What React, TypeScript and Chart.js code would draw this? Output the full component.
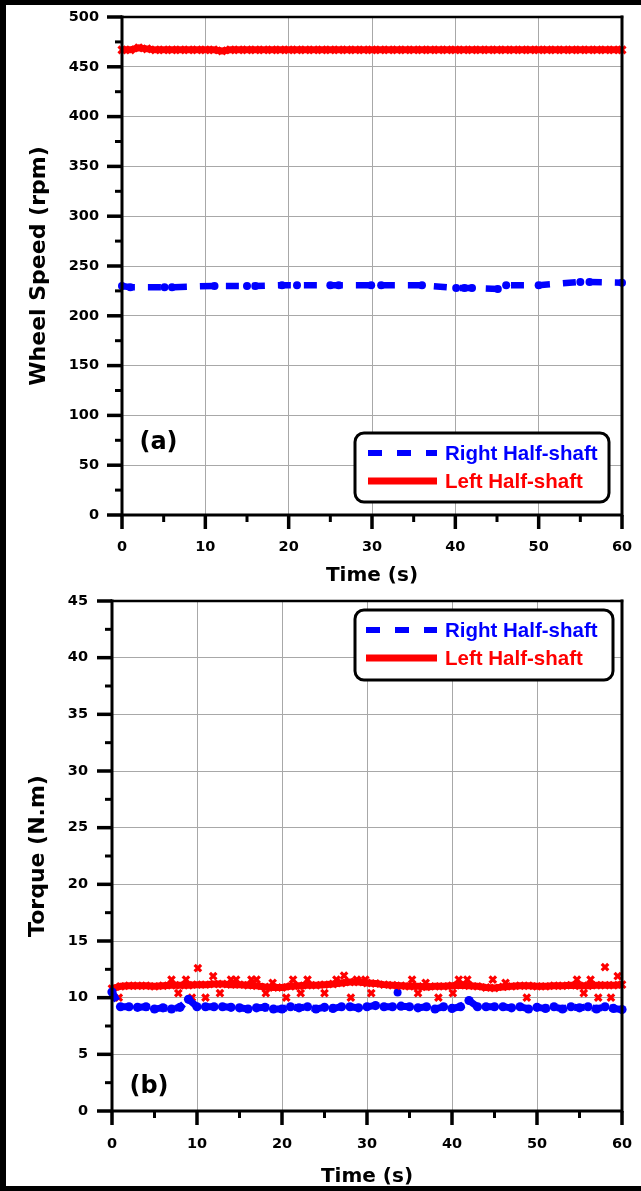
import React, { useEffect, useRef } from 'react';
import { Chart, registerables } from 'chart.js';

Chart.register(...registerables);

const BLUE = '#0000ff';
const RED = '#ff0000';
const GRID = '#a8a8a8';
const FONT = "'DejaVu Sans', sans-serif";
const LEGEND_FONT = "'Liberation Sans', Arial, sans-serif";

// ---------- (a) Wheel speed ----------
const speedTime = [
  0, 1, 2, 3, 4, 5, 6, 7, 8, 9, 10, 11, 12, 13, 14, 15, 16, 17, 18, 19, 20,
  21, 22, 23, 24, 25, 26, 27, 28, 29, 30, 31, 32, 33, 34, 35, 36, 37, 38, 39, 40,
  41, 42, 43, 44, 45, 46, 47, 48, 49, 50, 51, 52, 53, 54, 55, 56, 57, 58, 59, 60,
];
const leftSpeed = [
  467, 467, 469, 468, 467, 467, 467, 467, 467, 467,
  467, 467, 466, 467, 467, 467, 467, 467, 467, 467,
  467, 467, 467, 467, 467, 467, 467, 467, 467, 467,
  467, 467, 467, 467, 467, 467, 467, 467, 467, 467,
  467, 467, 467, 467, 467, 467, 467, 467, 467, 467,
  467, 467, 467, 467, 467, 467, 467, 467, 467, 467,
  467,
];
const rightSpeedTime = [0, 1, 5.1, 6, 11.1, 15, 16, 19.2, 21, 25, 26, 29.9, 31.1, 36, 40.1, 41.1, 42, 45.1, 46.1, 50, 55, 56.1, 60];
const rightSpeed = [230, 228.7, 228.7, 228.7, 230, 230, 230, 230.7, 230.7, 230.7, 230.7, 230.7, 230.7, 230.7, 228, 228, 228, 227, 230.7, 230.7, 234, 234, 233.3];

// ---------- (b) Torque ----------
const torqueTime = speedTime.slice();
const leftTorque = [
  10.8, 11.0, 11.05, 11.05, 11.05, 11.0, 11.05, 11.1, 11.1, 11.1,
  11.15, 11.15, 11.2, 11.2, 11.15, 11.15, 11.1, 11.05, 10.95, 10.9,
  10.9, 11.0, 11.05, 11.1, 11.1, 11.15, 11.2, 11.3, 11.38, 11.38,
  11.3, 11.25, 11.15, 11.1, 11.05, 11.0, 11.0, 10.95, 11.0, 11.0,
  11.05, 11.1, 11.05, 11.0, 10.9, 10.85, 10.95, 11.0, 11.05, 11.05,
  11.0, 11.0, 11.05, 11.05, 11.1, 11.05, 11.05, 11.1, 11.1, 11.1,
  11.15,
];
const rightTorque = [
  10.5, 9.2, 9.2, 9.15, 9.2, 9.0, 9.1, 9.0, 9.15, 9.85,
  9.2, 9.2, 9.2, 9.2, 9.15, 9.1, 9.0, 9.1, 9.15, 9.0,
  9.0, 9.2, 9.1, 9.2, 9.0, 9.15, 9.05, 9.2, 9.2, 9.1,
  9.2, 9.3, 9.2, 9.2, 9.25, 9.2, 9.1, 9.2, 9.0, 9.2,
  9.05, 9.2, 9.75, 9.2, 9.2, 9.2, 9.2, 9.1, 9.2, 9.0,
  9.15, 9.05, 9.2, 9.0, 9.2, 9.1, 9.2, 9.0, 9.2, 9.05,
  8.95,
];
const leftTorqueOutlierTime = [
  0.8, 7.0, 7.8, 8.7, 9.4, 10.1, 11.0, 11.9, 12.7, 14.0, 14.6, 16.4, 17.0, 18.1, 18.9,
  20.5, 21.3, 22.2, 23.0, 25.0, 26.4, 27.3, 28.1, 28.8, 29.8, 30.5, 35.3, 36.0, 36.9,
  38.4, 40.1, 40.8, 41.8, 44.8, 46.3, 48.8, 54.7, 55.5, 56.3, 57.2, 58.0, 58.7, 59.5,
];
const leftTorqueOutlier = [
  10.0, 11.6, 10.4, 11.6, 10.0, 12.6, 10.0, 11.9, 10.4, 11.6, 11.6, 11.6, 11.6, 10.4, 11.3,
  10.0, 11.6, 10.4, 11.6, 10.4, 11.6, 11.95, 10.0, 11.6, 11.6, 10.4, 11.6, 10.4, 11.3,
  10.0, 10.4, 11.6, 11.6, 11.6, 11.3, 10.0, 11.6, 10.4, 11.6, 10.0, 12.7, 10.0, 11.9,
];
const rightTorqueOutlierTime = [33.6];
const rightTorqueOutlier = [10.45];

// ---------- tick labels ----------
const timeMajorTicks = [0, 10, 20, 30, 40, 50, 60];
const speedMajorTicks = [0, 50, 100, 150, 200, 250, 300, 350, 400, 450, 500];
const torqueMajorTicks = [0, 5, 10, 15, 20, 25, 30, 35, 40, 45];

const pts = (xs: number[], ys: number[]) => xs.map((x, i) => ({ x, y: ys[i] }));

const zeroPad = (s: any) => {
  s.paddingTop = 0;
  s.paddingBottom = 0;
  s.paddingLeft = 0;
  s.paddingRight = 0;
};

function xScale(height: number, labelPad: number, titlePadBottom: number) {
  return {
    type: 'linear',
    min: 0,
    max: 60,
    afterFit: (s: any) => { s.height = height; zeroPad(s); },
    ticks: {
      stepSize: 5,
      autoSkip: false,
      maxRotation: 0,
      minRotation: 0,
      padding: labelPad,
      color: '#000',
      font: { family: FONT, size: 14.5, weight: 'bold' },
      callback: (v: any) => (timeMajorTicks.includes(v) ? String(v) : ''),
    },
    grid: {
      drawTicks: false,
      lineWidth: 1,
      color: (c: any) =>
        c.tick && timeMajorTicks.includes(c.tick.value) && c.tick.value !== 0 && c.tick.value !== 60 ? GRID : 'rgba(0,0,0,0)',
    },
    border: { display: false },
    title: {
      display: true,
      text: 'Time (s)',
      color: '#000',
      font: { family: FONT, size: 20, weight: 'bold' },
      padding: { top: 0, bottom: titlePadBottom },
    },
  };
}

function yScale(max: number, step: number, majors: number[], width: number, labelPad: number, title: string, titlePadTop: number) {
  return {
    type: 'linear',
    min: 0,
    max,
    afterFit: (s: any) => { s.width = width; zeroPad(s); },
    ticks: {
      stepSize: step,
      autoSkip: false,
      padding: labelPad,
      color: '#000',
      font: { family: FONT, size: 14.5, weight: 'bold' },
      callback: (v: any) => (majors.includes(v) ? String(v) : ''),
    },
    grid: {
      drawTicks: false,
      lineWidth: 1,
      color: (c: any) =>
        c.tick && majors.includes(c.tick.value) && c.tick.value !== 0 && c.tick.value !== max ? GRID : 'rgba(0,0,0,0)',
    },
    border: { display: false },
    title: {
      display: true,
      text: title,
      color: '#000',
      font: { family: FONT, size: 22, weight: 'bold' },
      padding: { top: titlePadTop, bottom: 0 },
    },
  };
}

function decor(o: any) {
  return {
    id: 'decor',
    afterDraw(chart: any) {
      const { ctx, chartArea, scales } = chart;
      const { left, right, top, bottom } = chartArea;
      ctx.save();
      ctx.strokeStyle = '#000';
      ctx.lineCap = 'butt';
      const xs = scales.x;
      const ys = scales.y;
      xs.ticks.forEach((t: any) => {
        const px = xs.getPixelForValue(t.value);
        const major = timeMajorTicks.includes(t.value);
        ctx.lineWidth = major ? 3.5 : 3;
        ctx.beginPath();
        ctx.moveTo(px, bottom);
        ctx.lineTo(px, bottom + (major ? 14 : 7));
        ctx.stroke();
      });
      ys.ticks.forEach((t: any) => {
        const py = ys.getPixelForValue(t.value);
        const major = o.yMajor.includes(t.value);
        ctx.lineWidth = major ? 3.5 : 3;
        ctx.beginPath();
        ctx.moveTo(left, py);
        ctx.lineTo(left - (major ? 15 : 7), py);
        ctx.stroke();
      });
      // frame
      ctx.lineCap = 'square';
      ctx.lineWidth = 2.5;
      ctx.beginPath();
      ctx.moveTo(left, top);
      ctx.lineTo(right, top);
      ctx.stroke();
      ctx.lineWidth = 3;
      ctx.beginPath();
      ctx.moveTo(left, top);
      ctx.lineTo(left, bottom);
      ctx.lineTo(right, bottom);
      ctx.moveTo(right, top);
      ctx.lineTo(right, bottom);
      ctx.stroke();

      // legend
      const L = o.legend;
      ctx.setLineDash([]);
      ctx.beginPath();
      ctx.roundRect(L.x, L.y, L.w, L.h, 9);
      ctx.fillStyle = '#fff';
      ctx.fill();
      ctx.lineWidth = 3;
      ctx.strokeStyle = '#000';
      ctx.stroke();
      const items = chart.data.datasets.slice(0, 2);
      items.forEach((d: any, i: number) => {
        const y = L.rows[i];
        ctx.strokeStyle = d.borderColor;
        ctx.lineCap = 'butt';
        ctx.lineWidth = i === 0 ? 6 : 7;
        ctx.setLineDash(i === 0 ? [14, 15] : []);
        ctx.beginPath();
        ctx.moveTo(L.sx0, y);
        ctx.lineTo(L.sx1, y);
        ctx.stroke();
        ctx.setLineDash([]);
        ctx.fillStyle = d.borderColor;
        ctx.font = `bold 20.5px ${LEGEND_FONT}`;
        ctx.textAlign = 'left';
        ctx.textBaseline = 'middle';
        ctx.fillText(d.label, L.tx, y + 1);
      });

      // panel label
      ctx.fillStyle = '#000';
      ctx.font = `bold 24px ${FONT}`;
      ctx.textAlign = 'center';
      ctx.textBaseline = 'middle';
      ctx.fillText(o.panel, o.panelX, o.panelY);
      ctx.restore();
    },
  };
}

const blueLine = {
  borderColor: BLUE,
  backgroundColor: BLUE,
  borderWidth: 6.5,
  borderDash: [13, 13],
  pointStyle: 'circle',
  pointRadius: 4,
  pointBorderWidth: 0,
  pointBackgroundColor: BLUE,
  tension: 0,
  clip: false,
};
const redLine = {
  borderColor: RED,
  backgroundColor: RED,
  borderWidth: 7,
  pointStyle: 'crossRot',
  pointRadius: 5,
  pointBorderWidth: 3,
  pointBorderColor: RED,
  tension: 0,
  clip: false,
};

function speedConfig(): any {
  return {
    type: 'line',
    data: {
      datasets: [
        { label: 'Right Half-shaft', data: pts(rightSpeedTime, rightSpeed), ...blueLine },
        { label: 'Left Half-shaft', data: pts(speedTime, leftSpeed), ...redLine },
      ],
    },
    options: {
      animation: false,
      responsive: false,
      events: [],
      layout: { padding: { left: 6, right: 19, top: 17, bottom: 0 } },
      plugins: { legend: { display: false }, tooltip: { enabled: false } },
      scales: {
        x: xScale(75, 24, 2),
        y: yScale(500, 25, speedMajorTicks, 116, 23, 'Wheel Speed (rpm)', 20),
      },
    },
    plugins: [
      decor({
        yMajor: speedMajorTicks,
        legend: { x: 355, y: 433, w: 254, h: 69, rows: [453, 481], sx0: 368, sx1: 437, tx: 445 },
        panel: '(a)',
        panelX: 158.5,
        panelY: 443,
      }),
    ],
  };
}

function torqueConfig(): any {
  return {
    type: 'line',
    data: {
      datasets: [
        { label: 'Right Half-shaft', data: pts(torqueTime, rightTorque), ...blueLine, pointRadius: 4.6, borderWidth: 7, borderDash: [10, 8] },
        { label: 'Left Half-shaft', data: pts(torqueTime, leftTorque), ...redLine, pointRadius: 4.8 },
        {
          label: 'Left Half-shaft (scatter)',
          data: pts(leftTorqueOutlierTime, leftTorqueOutlier),
          showLine: false,
          borderColor: RED,
          backgroundColor: RED,
          pointStyle: 'crossRot',
          pointRadius: 4.6,
          pointBorderWidth: 3.2,
          pointBorderColor: RED,
          clip: false,
        },
        {
          label: 'Right Half-shaft (scatter)',
          data: pts(rightTorqueOutlierTime, rightTorqueOutlier),
          showLine: false,
          borderColor: BLUE,
          backgroundColor: BLUE,
          pointStyle: 'circle',
          pointRadius: 4,
          pointBorderWidth: 0,
          pointBackgroundColor: BLUE,
          clip: false,
        },
      ],
    },
    options: {
      animation: false,
      responsive: false,
      events: [],
      layout: { padding: { left: 6, right: 19, top: 11, bottom: 0 } },
      plugins: { legend: { display: false }, tooltip: { enabled: false } },
      scales: {
        x: xScale(80, 25, 2),
        y: yScale(45, 2.5, torqueMajorTicks, 106, 24, 'Torque (N.m)', 19),
      },
    },
    plugins: [
      decor({
        yMajor: torqueMajorTicks,
        legend: { x: 355, y: 20, w: 258, h: 70, rows: [40, 68], sx0: 366, sx1: 437, tx: 445 },
        panel: '(b)',
        panelX: 149,
        panelY: 497,
      }),
    ],
  };
}

export default function App() {
  const refA = useRef<HTMLCanvasElement>(null);
  const refB = useRef<HTMLCanvasElement>(null);

  useEffect(() => {
    const a = new Chart(refA.current as HTMLCanvasElement, speedConfig());
    const b = new Chart(refB.current as HTMLCanvasElement, torqueConfig());
    return () => {
      a.destroy();
      b.destroy();
    };
  }, []);

  return (
    <div style={{ position: 'absolute', left: 0, top: 0, width: 641, height: 1191, background: '#fff', overflow: 'hidden' }}>
      <canvas ref={refA} width={641} height={590} style={{ position: 'absolute', left: 0, top: 0, width: 641, height: 590 }} />
      <canvas ref={refB} width={641} height={601} style={{ position: 'absolute', left: 0, top: 590, width: 641, height: 601 }} />
      <div style={{ position: 'absolute', left: 0, top: 0, width: 641, height: 5, background: '#000' }} />
      <div style={{ position: 'absolute', left: 0, top: 0, width: 6, height: 1191, background: '#000' }} />
      <div style={{ position: 'absolute', left: 0, top: 1186, width: 641, height: 5, background: '#000' }} />
    </div>
  );
}
